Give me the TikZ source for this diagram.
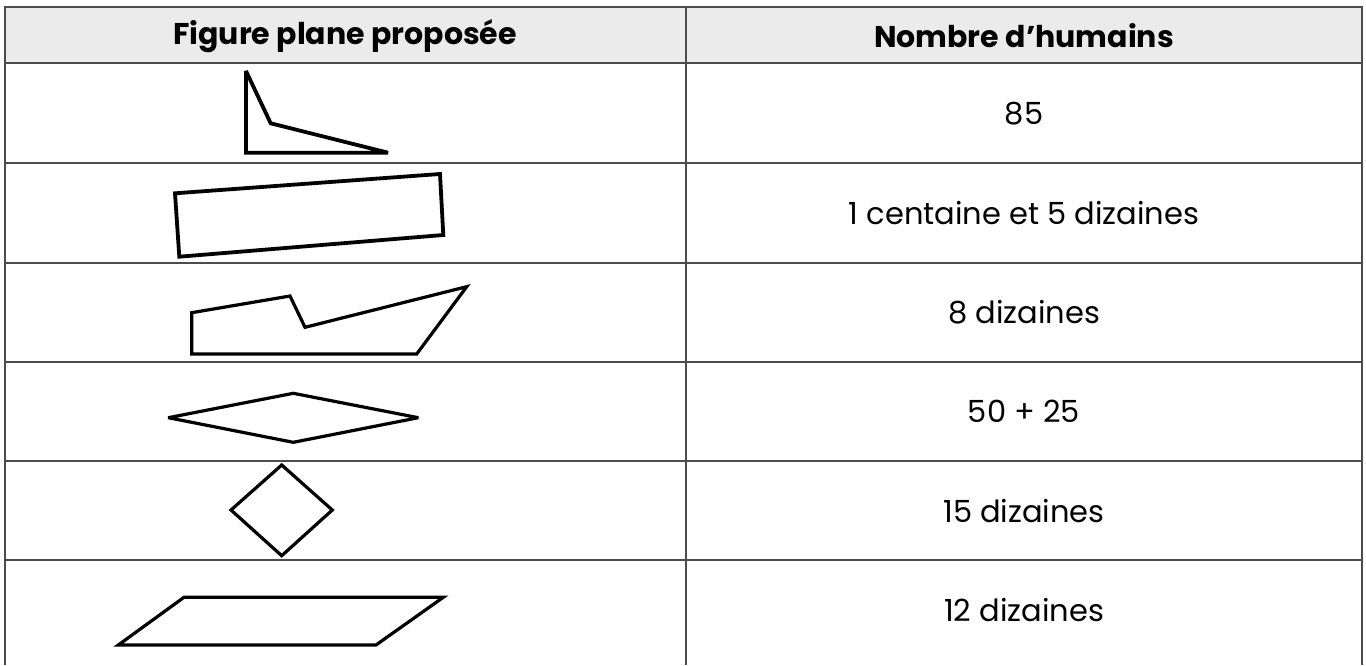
\documentclass[tikz,border=0pt]{standalone}
\usepackage{fontspec}
\setmainfont{Poppins}
\begin{document}
\begin{tikzpicture}[x=1pt,y=-1pt,
  grid/.style={draw=black!70,line width=1.6pt},
  shapeline/.style={draw=black,line width=3.8pt,line join=miter,miter limit=4},
  thinshape/.style={draw=black,line width=3.2pt,line join=miter,miter limit=4},
  hdrtext/.style={font=\fontsize{30}{34}\selectfont\bfseries,inner sep=0pt},
  celltext/.style={font=\fontsize{30.5}{34}\selectfont,inner sep=0pt}]
\useasboundingbox (0,0) rectangle (1366,665);
\fill[white] (0,0) rectangle (1366,665);
% header background
\fill[black!8] (5,7) rectangle (1362,63);
% grid
\draw[grid] (5,665) -- (5,7) -- (1362,7) -- (1362,665);
\draw[grid] (686,7) -- (686,665);
\foreach \yy in {63,163,263,362,461,560}{\draw[grid] (5,\yy) -- (1362,\yy);}
% header texts
\node[hdrtext] (h1) at (345,36) {Figure plane proposée};
\node[hdrtext] (h2) at (1024,36) {Nombre d’humains};
% right column texts
\node[celltext] (r1) at (1024,114) {85};
\node[celltext] (r2) at (1024,213) {1 centaine et 5 dizaines};
\node[celltext] (r3) at (1024,312) {8 dizaines};
\node[celltext] (r4) at (1024,411) {50 + 25};
\node[celltext] (r5) at (1024,511) {15 dizaines};
\node[celltext] (r6) at (1024,610) {12 dizaines};
% figures
\draw[shapeline] (246,71) -- (270.7,123.3) -- (388,152.7) -- (246,152.7) -- cycle;
\draw[shapeline] (175,193.3) -- (440,174) -- (443.3,235) -- (179.3,256.7) -- cycle;
\draw[thinshape] (191.7,312.7) -- (290,296) -- (305,327.3) -- (466.7,286.7) -- (416.7,354) -- (191.7,354) -- cycle;
\draw[thinshape] (168.3,417.7) -- (293.3,393.3) -- (418.3,417.7) -- (293.3,442.3) -- cycle;
\draw[thinshape] (281.7,465) -- (332.3,510) -- (281.7,555.7) -- (231,510) -- cycle;
\draw[thinshape] (184,597.3) -- (443.3,597.3) -- (376,645) -- (118.3,645) -- cycle;
\end{tikzpicture}
\end{document}
